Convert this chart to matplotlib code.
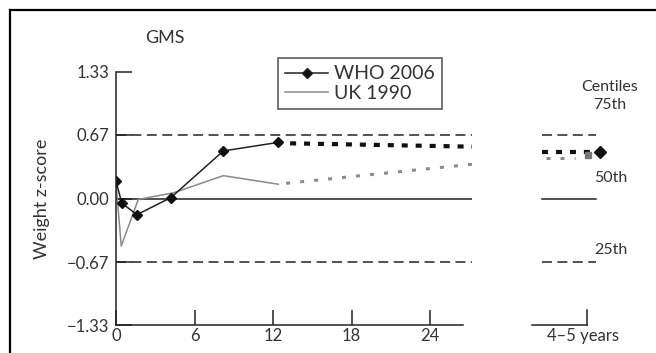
import matplotlib.pyplot as plt
from matplotlib.lines import Line2D

plt.rcParams['font.family'] = ['Lato', 'DejaVu Sans']

W, H = 656, 353

# WHO 2006 and UK 1990 weight z-scores (months)
who_months = [0, 0.45, 1.6, 4.2, 8.2, 12.4]
who_z = [0.18, -0.05, -0.17, 0.01, 0.50, 0.59]
uk_months = [0, 0.4, 1.7, 4.4, 8.2, 12.4]
uk_z = [0.16, -0.50, -0.01, 0.06, 0.24, 0.15]

# projected trend after 12 months
who_proj_months = [13.3, 27.2]
who_proj_z = [0.58, 0.545]
uk_proj_months = [13.0, 27.2]
uk_proj_z = [0.16, 0.36]

# 4-5 years
who_45 = 0.49
uk_45 = 0.46
uk_45_trend = 0.43

centile_z = [0.67, 0.0, -0.67]
centile_names = ["75th", "50th", "25th"]
xticks = [0, 6, 12, 18, 24]
yticks = [-1.33, -0.67, 0.0, 0.67, 1.33]
ytick_labels = ["\u22121.33", "\u22120.67", "0.00", "0.67", "1.33"]


def fx(x):
    return x / W


def fy(y):
    return 1 - y / H


fig = plt.figure(figsize=(W / 100, H / 100), dpi=100)

# outer frame (top and left visible)
fig.add_artist(Line2D([fx(10), 1], [fy(10), fy(10)], color="black", lw=1.6))
fig.add_artist(Line2D([fx(10), fx(10)], [fy(10), 0], color="black", lw=1.6))

top, bottom = 72, 325
ax = fig.add_axes([fx(116), fy(bottom), (472 - 116) / W, (bottom - top) / H])
ax.set_xlim(0, 27.2)
ax.set_ylim(-1.33, 1.33)
for s in ["top", "right"]:
    ax.spines[s].set_visible(False)
ax.spines["left"].set_bounds(-1.33, 1.33)
ax.spines["bottom"].set_bounds(0, 26.5)
ax.spines["left"].set_color("#222")
ax.spines["bottom"].set_color("#222")
ax.spines["left"].set_linewidth(1.1)
ax.spines["bottom"].set_linewidth(1.1)

ax.set_xticks(xticks)
ax.set_yticks(yticks)
ax.set_yticklabels(ytick_labels)
ax.tick_params(axis="x", direction="in", length=11, width=1.1, color="#222",
               labelsize=12, pad=2, labelcolor="#333")
ax.tick_params(axis="y", direction="in", length=11.5, width=1.1, color="#222",
               labelsize=12, pad=5, labelcolor="#333")

# centile reference lines
for z in centile_z:
    if z == 0:
        ax.plot([0, 27.2], [z, z], color="#222", lw=1.1)
    else:
        ax.plot([0, 27.2], [z, z], color="#222", lw=1.1, dashes=(6.5, 3.6))

ax.plot(uk_months, uk_z, color="#8a8a8a", lw=1.1)
ax.plot(who_months, who_z, color="#222", lw=1.1, marker="D", ms=5,
        mfc="#111", mec="#111")
ax.plot(uk_proj_months, uk_proj_z, color="#8a8a8a", lw=2.2, dashes=(1.3, 3.3))
ax.plot(who_proj_months, who_proj_z, color="#111", lw=3.0, dashes=(1.45, 1.9))

ax.set_ylabel("Weight z-score", fontsize=13, color="#333")
ax.yaxis.set_label_coords((50 - 116) / (472 - 116), 0.5)

# legend
handles = [Line2D([], [], color="#222", lw=1.1, marker="D", ms=5, mfc="#111"),
           Line2D([], [], color="#8a8a8a", lw=1.1)]
leg = fig.legend(handles, ["WHO 2006", "UK 1990"], loc="upper left",
                 bbox_to_anchor=(fx(278), fy(58)), fontsize=14, frameon=True,
                 fancybox=False, edgecolor="#222", handlelength=2.2,
                 handletextpad=0.3, borderpad=0.38, labelspacing=0.12,
                 borderaxespad=0)
leg.get_frame().set_linewidth(1.1)
for t in leg.get_texts():
    t.set_color("#333")

# 4-5 years panel
ax2 = fig.add_axes([fx(532), fy(bottom), (606 - 532) / W, (bottom - top) / H])
ax2.set_xlim(-4.2, 1.45)
ax2.set_ylim(-1.33, 1.33)
for s in ["top", "right", "left"]:
    ax2.spines[s].set_visible(False)
ax2.spines["bottom"].set_bounds(-4.2, 0)
ax2.spines["bottom"].set_color("#222")
ax2.spines["bottom"].set_linewidth(1.1)
ax2.set_yticks([])
ax2.set_xticks([-0.3])
ax2.set_xticklabels(["4\u20135 years"])
ax2.tick_params(axis="x", direction="in", length=0, labelsize=12, pad=2,
                labelcolor="#333")
# tick mark of the 4-5 years panel at the end of its axis
ax2.plot([0, 0], [-1.33, -1.17], color="#222", lw=1.1, clip_on=False)

for z in centile_z:
    if z == 0:
        ax2.plot([-3.45, 0.65], [z, z], color="#222", lw=1.1)
    else:
        ax2.plot([-3.45, 0.65], [z, z], color="#222", lw=1.1, dashes=(6.5, 3.6))

ax2.plot([-3.1, -0.9], [uk_45_trend, uk_45_trend], color="#8a8a8a", lw=2.2,
         dashes=(1.3, 3.3))
ax2.plot([-3.45, 0.6], [who_45, who_45], color="#111", lw=3.0, dashes=(1.45, 1.9))
ax2.plot([0.08], [uk_45], marker="s", ms=4.5, color="#777", ls="none", clip_on=False)
ax2.plot([1.0], [who_45], marker="D", ms=6, color="#111", ls="none", clip_on=False)

# text annotations
fig.text(fx(165), fy(38), "GMS", fontsize=13, ha="center", va="center", color="#333")
fig.text(fx(610), fy(87), "Centiles", fontsize=11.5, ha="center", va="center", color="#333")
fig.text(fx(610), fy(105), centile_names[0], fontsize=11.5, ha="center", va="center", color="#333")
fig.text(fx(611), fy(178), centile_names[1], fontsize=11.5, ha="center", va="center", color="#333")
fig.text(fx(611), fy(250), centile_names[2], fontsize=11.5, ha="center", va="center", color="#333")

fig.savefig("out.png", dpi=100)
